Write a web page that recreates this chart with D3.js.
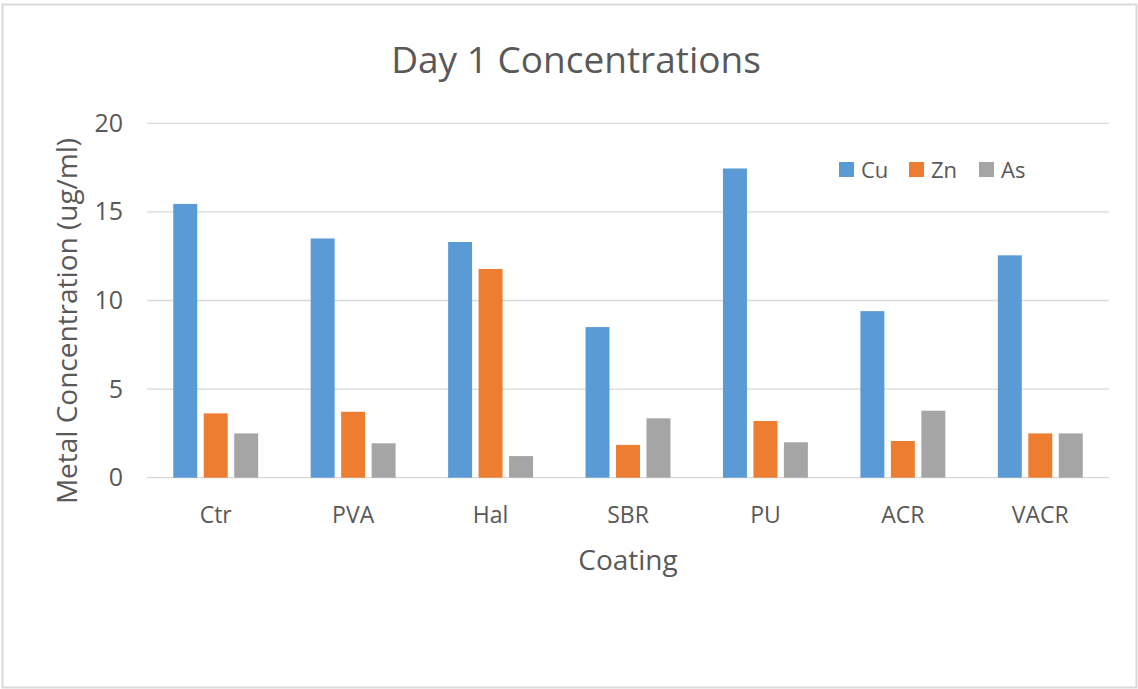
<!DOCTYPE html>
<html>
<head>
<meta charset="utf-8">
<script src="https://cdn.jsdelivr.net/npm/d3@7"></script>
<style>
  html, body { margin: 0; padding: 0; background: #fff; }
  svg { display: block; font-family: "Open Sans", "Noto Sans", sans-serif; }
</style>
</head>
<body>
<svg id="chart" width="1138" height="689"></svg>
<script>
// Metal concentrations (ug/ml) after day 1, per coating
const coatings = ["Ctr", "PVA", "Hal", "SBR", "PU", "ACR", "VACR"];
const metals = ["Cu", "Zn", "As"];
const cuValues = [15.45, 13.5, 13.3, 8.5, 17.45, 9.4, 12.55];
const znValues = [3.63, 3.72, 11.78, 1.85, 3.2, 2.07, 2.5];
const asValues = [2.5, 1.94, 1.22, 3.35, 2.0, 3.78, 2.5];
const yTicks = [0, 5, 10, 15, 20];
const metalColors = ["#5B9BD5", "#ED7D31", "#A5A5A5"];

const seriesValues = { Cu: cuValues, Zn: znValues, As: asValues };

const svg = d3.select("#chart");
const textColor = "#595959";
const fontFamily = "Open Sans, sans-serif";

// outer frame
svg.append("rect")
  .attr("x", 2.5).attr("y", 4.5)
  .attr("width", 1134).attr("height", 683)
  .attr("fill", "#fff")
  .attr("stroke", "#D9D9D9").attr("stroke-width", 2);

const plot = { left: 147, right: 1109, top: 123.3, bottom: 477.7 };

const x0 = d3.scaleBand()
  .domain(coatings)
  .range([plot.left, plot.right])
  .paddingInner(0.382)
  .paddingOuter(0.191);

const x1 = d3.scaleBand()
  .domain(metals)
  .range([0, x0.bandwidth()])
  .paddingInner(0.213)
  .paddingOuter(0);

const y = d3.scaleLinear()
  .domain([0, 20])
  .range([plot.bottom, plot.top]);

const color = d3.scaleOrdinal().domain(metals).range(metalColors);

// gridlines
svg.append("g")
  .selectAll("line")
  .data(yTicks)
  .join("line")
  .attr("x1", plot.left).attr("x2", plot.right)
  .attr("y1", d => y(d)).attr("y2", d => y(d))
  .attr("stroke", "#D9D9D9").attr("stroke-width", 1.3);

// y axis tick labels
const yAxis = d3.axisLeft(y).tickValues(yTicks).tickSize(0).tickPadding(0);
svg.append("g")
  .attr("transform", "translate(123,0)")
  .call(yAxis)
  .call(g => g.select(".domain").remove())
  .selectAll("text")
  .attr("fill", textColor)
  .attr("font-size", 25)
  .attr("font-family", fontFamily);

// x axis labels
const xAxis = d3.axisBottom(x0).tickSize(0).tickPadding(0);
svg.append("g")
  .attr("transform", "translate(0,506.5)")
  .call(xAxis)
  .call(g => g.select(".domain").remove())
  .selectAll("text")
  .attr("fill", textColor)
  .attr("font-size", 23)
  .attr("font-family", fontFamily);

// bars
const groups = svg.append("g")
  .selectAll("g")
  .data(coatings)
  .join("g")
  .attr("transform", d => `translate(${x0(d)},0)`);

groups.selectAll("rect")
  .data((c, i) => metals.map(m => ({ metal: m, value: seriesValues[m][i] })))
  .join("rect")
  .attr("x", d => x1(d.metal))
  .attr("width", x1.bandwidth())
  .attr("y", d => y(d.value))
  .attr("height", d => y(0) - y(d.value))
  .attr("fill", d => color(d.metal));

// title
svg.append("text")
  .attr("x", 576).attr("y", 73)
  .attr("text-anchor", "middle")
  .attr("fill", textColor)
  .attr("font-size", 37)
  .text("Day 1 Concentrations");

// axis titles
svg.append("text")
  .attr("x", 628).attr("y", 570)
  .attr("text-anchor", "middle")
  .attr("fill", textColor)
  .attr("font-size", 28)
  .text("Coating");

svg.append("text")
  .attr("transform", "translate(77,321) rotate(-90)")
  .attr("text-anchor", "middle")
  .attr("fill", textColor)
  .attr("font-size", 28)
  .text("Metal Concentration (ug/ml)");

// legend
const legendX = [839, 909, 979];
const legend = svg.append("g")
  .selectAll("g")
  .data(metals)
  .join("g")
  .attr("transform", (d, i) => `translate(${legendX[i]},162)`);

legend.append("rect")
  .attr("width", 15).attr("height", 15)
  .attr("fill", d => color(d));

legend.append("text")
  .attr("x", 22).attr("y", 15.5)
  .attr("fill", textColor)
  .attr("font-size", 22)
  .text(d => d);
</script>
</body>
</html>
